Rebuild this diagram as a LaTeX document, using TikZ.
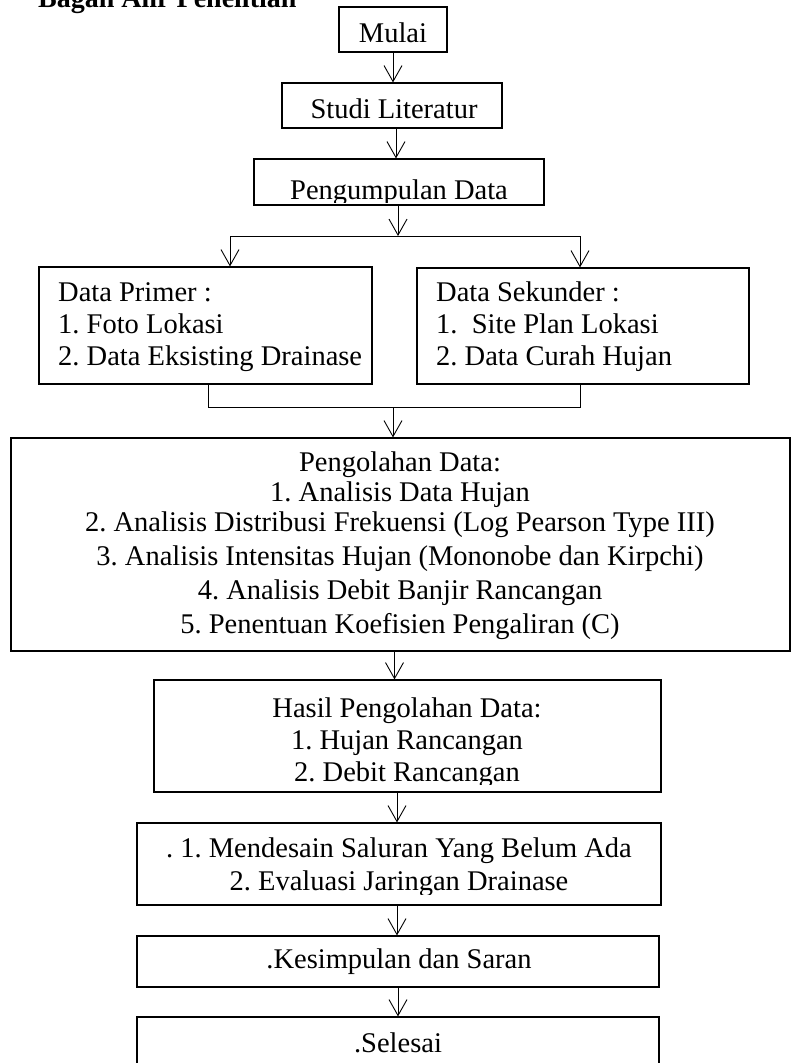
\documentclass[tikz,border=0pt]{standalone}
\usepackage{fontspec}
\setmainfont{Liberation Serif}
\usetikzlibrary{arrows.meta}
\frenchspacing

\tikzset{
  kotak/.style={draw, line width=1.1pt, inner sep=0pt},
  teks/.style={anchor=base, inner sep=0pt},
  teksk/.style={anchor=base west, inner sep=0pt},
  garis/.style={line width=1pt},
  panah/.style={line width=0.9pt, -{Straight Barb[length=16pt, width=18pt, line width=0.9pt]}},
}

\begin{document}
\begin{tikzpicture}[x=1pt, y=-1pt, font=\fontsize{28.5}{33}\selectfont]
  \useasboundingbox (0,0) rectangle (791,1063);
  \clip (0,0) rectangle (791,1063);

  \node[teksk, font=\fontsize{28}{33}\selectfont\bfseries] (judul) at (38,7) {Bagan Alir Penelitian};

  % kotak
  \node[kotak, minimum width=108pt, minimum height=45pt] (mulai) at (393,29.5) {};
  \node[teks] (tmulai) at (393,42) {Mulai};

  \node[kotak, minimum width=220pt, minimum height=45pt] (studi) at (392,105.5) {};
  \node[teks] (tstudi) at (394,118) {Studi Literatur};

  \node[kotak, minimum width=290pt, minimum height=46pt] (kumpul) at (399,182) {};
  \begin{scope}
    \clip (kumpul.north west) rectangle ([yshift=3pt]kumpul.south east);
    \node[teks] (tkumpul) at (399,199) {Pengumpulan Data};
  \end{scope}

  \node[kotak, minimum width=333pt, minimum height=117pt] (primer) at (205.5,325.5) {};
  \foreach \yy/\isi [count=\i] in {301/{Data Primer :}, 333/{1. Foto Lokasi}, 365/{2. Data Eksisting Drainase}}
    \node[teksk] (p\i) at (58,\yy) {\isi};

  \node[kotak, minimum width=332pt, minimum height=116pt] (sekunder) at (583,326) {};
  \foreach \yy/\isi [count=\i] in {301/{Data Sekunder :}, 333/{1.\ \ Site Plan Lokasi}, 365/{2. Data Curah Hujan}}
    \node[teksk] (s\i) at (436,\yy) {\isi};

  \node[kotak, minimum width=779pt, minimum height=213pt] (olah) at (400.5,544.5) {};
  \foreach \yy/\isi [count=\i] in {471/{Pengolahan Data:}, 501/{1. Analisis Data Hujan},
      531/{2. Analisis Distribusi Frekuensi (Log Pearson Type III)},
      565/{3. Analisis Intensitas Hujan (Mononobe dan Kirpchi)},
      599/{4. Analisis Debit Banjir Rancangan},
      633/{5. Penentuan Koefisien Pengaliran (C)}}
    \node[teks] (o\i) at (400,\yy) {\isi};

  \node[kotak, minimum width=507pt, minimum height=112pt] (hasil) at (407.5,736) {};
  \begin{scope}
    \clip (hasil.north west) rectangle ([yshift=8pt]hasil.south east);
    \foreach \yy/\isi [count=\i] in {717/{Hasil Pengolahan Data:}, 749/{1. Hujan Rancangan}, 781/{2. Debit Rancangan}}
      \node[teks] (h\i) at (407,\yy) {\isi};
  \end{scope}

  \node[kotak, minimum width=524pt, minimum height=82pt] (desain) at (399,864) {};
  \begin{scope}
    \clip (desain.north west) rectangle ([yshift=11pt]desain.south east);
    \node[teks] (d1) at (399,857) {. 1. Mendesain Saluran Yang Belum Ada};
    \node[teks] (d2) at (399,890) {2. Evaluasi Jaringan Drainase};
  \end{scope}

  \node[kotak, minimum width=522pt, minimum height=51pt] (simpul) at (398,961.5) {};
  \node[teks] (tsimpul) at (399,968) {.Kesimpulan dan Saran};

  \node[kotak, minimum width=522pt, minimum height=58pt] (selesai) at (398,1046) {};
  \node[teks] (tselesai) at (398,1052) {.Selesai};

  % panah
  \draw[panah] (mulai) -- (mulai |- studi.north);
  \draw[panah] ([xshift=4pt]studi.south) -- ([xshift=4pt]studi.south |- kumpul.north);

  \coordinate (cabang) at (398,236);
  \coordinate (kiri) at (230,236);
  \coordinate (kanan) at (580,236);
  \draw[panah] ([xshift=-1pt]kumpul.south) -- (cabang);
  \draw[garis] (kiri) -- (kanan);
  \draw[panah] (kiri) -- (kiri |- primer.north);
  \draw[panah] (kanan) -- (kanan |- sekunder.north);

  \coordinate (gabung) at (393,407);
  \draw[garis] ([xshift=2.5pt]primer.south) -- ([xshift=2.5pt]primer.south |- gabung)
    -- ([xshift=-3pt]sekunder.south |- gabung) -- ([xshift=-3pt]sekunder.south);
  \draw[panah] (gabung) -- (gabung |- olah.north);

  \draw[panah] ([xshift=-6pt]olah.south) -- ([xshift=-6pt]olah.south |- hasil.north);
  \draw[panah] ([xshift=-10.5pt]hasil.south) -- ([xshift=-10.5pt]hasil.south |- desain.north);
  \draw[panah] ([xshift=-2pt]desain.south) -- ([xshift=-2pt]desain.south |- simpul.north);
  \draw[panah] (simpul) -- (simpul |- selesai.north);
\end{tikzpicture}
\end{document}
